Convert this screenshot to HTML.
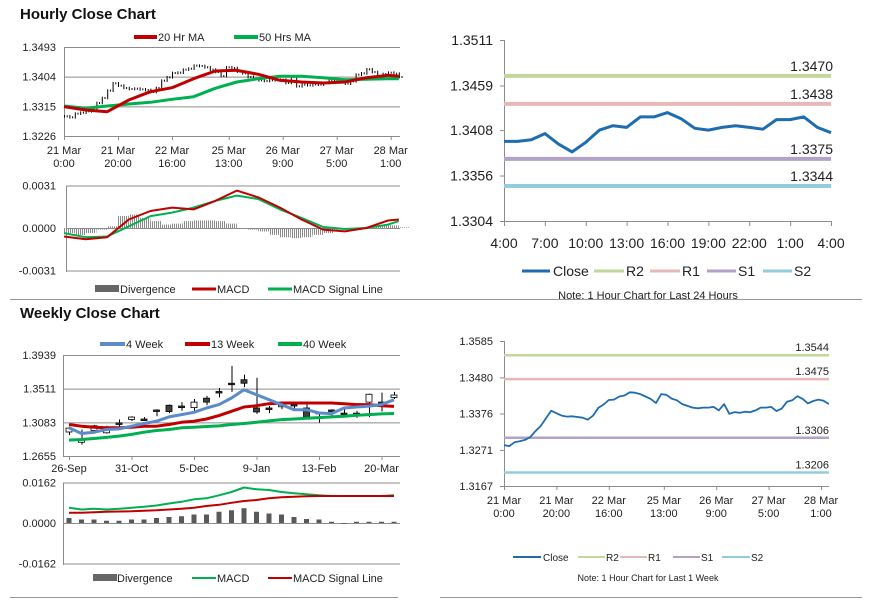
<!DOCTYPE html>
<html><head><meta charset="utf-8"><style>
html,body{margin:0;padding:0;background:#fff;}
svg{display:block;font-family:"Liberation Sans",Arial,sans-serif;}
.t{font-size:11px;fill:#222;}
.n{font-family:"Liberation Sans Narrow","Liberation Sans",sans-serif;font-size:14px;fill:#222;}
.ttl{font-size:15px;font-weight:bold;fill:#111;}
.nt{font-size:9px;fill:#222;}
</style></head><body>
<svg id="c" width="873" height="601" viewBox="0 0 873 601" xmlns="http://www.w3.org/2000/svg">
<defs>
<pattern id="hatch" width="2" height="4" patternUnits="userSpaceOnUse"><rect x="0" y="0" width="1" height="4" fill="#8a8a8a"/></pattern>
</defs>
<text x="20" y="19" class="ttl">Hourly Close Chart</text>
<text x="20" y="318" class="ttl">Weekly Close Chart</text>
<line x1="10" y1="299.5" x2="862" y2="299.5" stroke="#999"/>
<line x1="10" y1="597.5" x2="398" y2="597.5" stroke="#999"/>
<line x1="440" y1="597.5" x2="862" y2="597.5" stroke="#999"/>

<g>
<line x1="134" y1="37" x2="157" y2="37" stroke="#c00000" stroke-width="4"/><text x="158" y="41" class="t">20 Hr MA</text>
<line x1="234" y1="37" x2="258" y2="37" stroke="#00b050" stroke-width="4"/><text x="259" y="41" class="t">50 Hrs MA</text>
</g>
<g>
<rect x="95" y="285" width="24" height="7" fill="#666"/><text x="120" y="293" class="t">Divergence</text>
<line x1="192" y1="289" x2="216" y2="289" stroke="#c00000" stroke-width="3"/><text x="217" y="293" class="t">MACD</text>
<line x1="268" y1="289" x2="292" y2="289" stroke="#00b050" stroke-width="3"/><text x="293" y="293" class="t">MACD Signal Line</text>
</g>
<g>
<line x1="100" y1="344" x2="125" y2="344" stroke="#5b8bc9" stroke-width="4"/><text x="126" y="348" class="t">4 Week</text>
<line x1="185" y1="344" x2="210" y2="344" stroke="#c00000" stroke-width="4"/><text x="211" y="348" class="t">13 Week</text>
<line x1="278" y1="344" x2="302" y2="344" stroke="#00b050" stroke-width="4"/><text x="303" y="348" class="t">40 Week</text>
</g>
<g>
<rect x="93" y="574" width="24" height="7" fill="#666"/><text x="117" y="582" class="t">Divergence</text>
<line x1="192" y1="578" x2="216" y2="578" stroke="#00b050" stroke-width="2"/><text x="217" y="582" class="t">MACD</text>
<line x1="268" y1="578" x2="292" y2="578" stroke="#c00000" stroke-width="2"/><text x="293" y="582" class="t">MACD Signal Line</text>
</g>
<g>
<line x1="522" y1="271" x2="550" y2="271" stroke="#1f6cb0" stroke-width="3"/><text x="553" y="276" class="n">Close</text>
<line x1="594" y1="271" x2="624" y2="271" stroke="#c3d69b" stroke-width="3"/><text x="626" y="276" class="n">R2</text>
<line x1="650" y1="271" x2="680" y2="271" stroke="#e6b9b8" stroke-width="3"/><text x="682" y="276" class="n">R1</text>
<line x1="707" y1="271" x2="736" y2="271" stroke="#b3a2c7" stroke-width="3"/><text x="738" y="276" class="n">S1</text>
<line x1="763" y1="271" x2="792" y2="271" stroke="#93cddd" stroke-width="3"/><text x="794" y="276" class="n">S2</text>
<text x="648" y="299" class="n" style="font-size:11px" text-anchor="middle">Note: 1 Hour Chart for Last 24 Hours</text>
</g>
<g>
<line x1="513" y1="557" x2="541" y2="557" stroke="#1f6cb0" stroke-width="2"/><text x="543" y="561" class="t" style="font-size:10px">Close</text>
<line x1="578" y1="557" x2="605" y2="557" stroke="#c3d69b" stroke-width="2"/><text x="606" y="561" class="t" style="font-size:10px">R2</text>
<line x1="620" y1="557" x2="647" y2="557" stroke="#e6b9b8" stroke-width="2"/><text x="648" y="561" class="t" style="font-size:10px">R1</text>
<line x1="673" y1="557" x2="700" y2="557" stroke="#b3a2c7" stroke-width="2"/><text x="701" y="561" class="t" style="font-size:10px">S1</text>
<line x1="722" y1="557" x2="750" y2="557" stroke="#93cddd" stroke-width="2"/><text x="751" y="561" class="t" style="font-size:10px">S2</text>
<text x="648" y="581" class="nt" text-anchor="middle">Note: 1 Hour Chart for  Last 1 Week</text>
</g>
</svg>
<script>
const hourlyClose = [1.3285,1.3282,1.3293,1.3296,1.3300,1.3308,1.3325,1.3340,1.3362,1.3384,1.3377,1.3370,1.3367,1.3368,1.3366,1.3364,1.3358,1.3370,1.3392,1.3402,1.3415,1.3416,1.3425,1.3428,1.3437,1.3436,1.3432,1.3425,1.3418,1.3406,1.3432,1.3430,1.3419,1.3414,1.3403,1.3398,1.3393,1.3391,1.3393,1.3393,1.3395,1.3385,1.3403,1.3375,1.3380,1.3378,1.3381,1.3380,1.3385,1.3393,1.3393,1.3395,1.3383,1.3390,1.3410,1.3414,1.3426,1.3418,1.3405,1.3412,1.3416,1.3413,1.3403];
const ma20 = [1.3314,1.3304,1.3299,1.3334,1.3359,1.3371,1.3398,1.3421,1.3423,1.3411,1.3393,1.3388,1.3385,1.3388,1.3401,1.3408,1.3405];
const ma50 = [1.3316,1.3309,1.3316,1.3322,1.3327,1.3336,1.3344,1.3369,1.3388,1.3398,1.3405,1.3405,1.3401,1.3395,1.3396,1.3398,1.3398];
const maHours = [0,8,16,24,32,40,48,56,64,72,80,88,96,104,112,120,124];
const hMacd = [-0.00062,-0.00082,-0.00067,0.00062,0.00124,0.00149,0.00136,0.00198,0.00273,0.00223,0.00149,0.00062,-0.00012,-0.00025,0,0.00055,0.00062];
const hSignal = [-0.00037,-0.00067,-0.00062,0.00012,0.00087,0.00112,0.00149,0.00198,0.00236,0.00211,0.00136,0.00074,0.00007,-0.00007,0,0.00025,0.0005];
const hDiv = [-0.00037,-0.0005,-0.00037,-0.00012,0.00012,0.00087,0.00099,0.00074,0.0005,0.00025,0.00032,0.0005,0.00055,0.00055,0.0005,0.00032,0,-0.00012,-0.00025,-0.0005,-0.00067,-0.00074,-0.00067,-0.0005,-0.00037,-0.00012,-0.00002,0,0.00012,0.00017,0.0002,0.00005];
const hTickLabels = [["21 Mar","0:00"],["21 Mar","20:00"],["22 Mar","16:00"],["25 Mar","13:00"],["26 Mar","9:00"],["27 Mar","5:00"],["28 Mar","1:00"]];
const hTickHours = [0,20,40,61,81,101,121];
const hPriceTicks = [1.3493,1.3404,1.3315,1.3226];
const hMacdTicks = [0.0031,0,-0.0031];
const dayClose = [1.3395,1.3395,1.3397,1.3404,1.3392,1.3383,1.3394,1.3408,1.3413,1.3411,1.3423,1.3423,1.3428,1.3421,1.3410,1.3408,1.3411,1.3413,1.3411,1.3409,1.3420,1.3420,1.3423,1.3411,1.3405];
const dayTicks = ["4:00","7:00","10:00","13:00","16:00","19:00","22:00","1:00","4:00"];
const dayPriceTicks = [1.3511,1.3459,1.3408,1.3356,1.3304];
const dayLevels = [1.3470,1.3438,1.3375,1.3344];
const weekLevels = [1.3544,1.3475,1.3306,1.3206];
const levelNames = ["R2","R1","S1","S2"];
const weekPriceTicksR = [1.3585,1.3480,1.3376,1.3271,1.3167];
const wOpen  = [1.2960,1.2830,1.2980,1.2950,1.3075,1.3120,1.3125,1.3240,1.3300,1.3290,1.3270,1.3390,1.3475,1.3580,1.3625,1.3265,1.3265,1.3300,1.3310,1.3265,1.3210,1.3240,1.3200,1.3200,1.3340,1.3340,1.3400];
const wClose = [1.3010,1.2870,1.3040,1.2990,1.3060,1.3150,1.3115,1.3230,1.3220,1.3270,1.3340,1.3340,1.3470,1.3570,1.3580,1.3215,1.3255,1.3300,1.3300,1.3150,1.3200,1.3230,1.3190,1.3195,1.3440,1.3300,1.3430];
const wHigh  = [1.3030,1.2990,1.3050,1.3040,1.3120,1.3160,1.3150,1.3250,1.3310,1.3340,1.3380,1.3420,1.3520,1.3800,1.3690,1.3650,1.3290,1.3330,1.3330,1.3320,1.3210,1.3250,1.3280,1.3230,1.3450,1.3460,1.3470];
const wLow   = [1.2920,1.2800,1.2940,1.2940,1.3030,1.3100,1.3100,1.3160,1.3200,1.3230,1.3220,1.3300,1.3400,1.3470,1.3530,1.3190,1.3200,1.3250,1.3230,1.3140,1.3080,1.3160,1.3160,1.3140,1.3150,1.3220,1.3380];
const ma4w  = [1.3013,1.2941,1.2958,1.2992,1.3000,1.3034,1.3068,1.3097,1.3152,1.3181,1.3211,1.3265,1.3308,1.3392,1.3497,1.3434,1.3371,1.3308,1.3244,1.3244,1.3202,1.3194,1.3265,1.3278,1.3290,1.3308,1.3371];
const ma13w = [1.3055,1.3034,1.3021,1.3013,1.3013,1.3021,1.3034,1.3034,1.3055,1.3084,1.3097,1.3126,1.3169,1.3223,1.3278,1.3295,1.3320,1.3329,1.3329,1.3329,1.3329,1.3329,1.3320,1.3308,1.3308,1.3295,1.3286];
const ma40w = [1.2857,1.2865,1.2878,1.2891,1.2908,1.2929,1.2958,1.2979,1.2992,1.3013,1.3021,1.3030,1.3038,1.3055,1.3068,1.3084,1.3101,1.3118,1.3126,1.3135,1.3143,1.3152,1.3160,1.3173,1.3181,1.3190,1.3195];
const wMacd   = [0.0061,0.0054,0.0057,0.0054,0.0057,0.0061,0.0065,0.0070,0.0078,0.0085,0.0095,0.0099,0.0111,0.0124,0.0142,0.0135,0.0132,0.0124,0.0119,0.0115,0.0111,0.0108,0.0108,0.0108,0.0108,0.0108,0.0111];
const wSignal = [0.0041,0.0041,0.0043,0.0045,0.0046,0.0047,0.0049,0.0051,0.0054,0.0057,0.0061,0.0068,0.0073,0.0081,0.0088,0.0092,0.0099,0.0103,0.0105,0.0107,0.0108,0.0108,0.0108,0.0108,0.0108,0.0108,0.0108];
const wDiv    = [0.0020,0.0014,0.0014,0.0009,0.0009,0.0014,0.0014,0.0020,0.0024,0.0027,0.0034,0.0034,0.0045,0.0051,0.0059,0.0045,0.0038,0.0034,0.0024,0.0016,0.0014,0.0005,-0.0003,0.0005,0.0005,0.0005,0.0005];
const wTickLabels = ["26-Sep","31-Oct","5-Dec","9-Jan","13-Feb","20-Mar"];
const wTickIdx = [0,5,10,15,20,25];
const wPriceTicks = [1.3939,1.3511,1.3083,1.2655];
const wMacdTicks = [0.0162,0,-0.0162];

const svg = document.getElementById('c');
const NS = 'http://www.w3.org/2000/svg';
function mk(tag, attrs){ const e=document.createElementNS(NS,tag); for(const k in attrs) e.setAttribute(k,attrs[k]); svg.appendChild(e); return e; }
function poly(xs, ys, color, w, name){
  const pts = xs.map((x,i)=>x.toFixed(1)+','+ys[i].toFixed(1)).join(' ');
  const e = mk('polyline',{points:pts,fill:'none',stroke:color,'stroke-width':w,'stroke-linejoin':'round'});
  
  
  return e;
}
function txt(x,y,s,anchor,name,cls){
  const e = mk('text',{x:x,y:y,'text-anchor':anchor,class:cls||'t'}); e.textContent=s;
  
  
  return e;
}
function hline(x1,x2,y,color,w,name){
  const e = mk('line',{x1:x1,x2:x2,y1:y,y2:y,stroke:color,'stroke-width':w});
  
  
  return e;
}
function vline(x,y1,y2,color,w,name){
  const e = mk('line',{x1:x,x2:x,y1:y1,y2:y2,stroke:color,'stroke-width':w});
  
  
  return e;
}
const GRID='#8c8c8c';

const xH = h => 64 + h*2.7;
const yH = p => 47 + (1.3493-p)/0.0267*89;
hPriceTicks.forEach(p=>{ hline(64,400,yH(p)+0.5,GRID,1,'hourly-gridline'); txt(56,yH(p)+4,p.toFixed(4),'end','hourly-y-tick'); });
vline(64.5,47,137,GRID,1,'hourly-y-axis');
hTickHours.forEach((h,i)=>{ vline(xH(h)+0.5,136,140,GRID,1,'hourly-x-tickmark'); txt(xH(h),154,hTickLabels[i][0],'middle','hourly-x-tick'); txt(xH(h),167,hTickLabels[i][1],'middle','hourly-x-tick'); });
hourlyClose.forEach((c,k)=>{
  const prev = k>0 ? hourlyClose[k-1] : c;
  const hi = Math.max(prev,c)+0.0004, lo = Math.min(prev,c)-0.0004;
  vline(xH(2*k)+0.5,yH(hi),yH(lo),'#000',1,'hourly-price-bar');
  vline(xH(2*k+1)+0.5,yH(c+0.0003),yH(c-0.0003),'#000',1,'hourly-price-bar');
});
poly(maHours.map(xH), ma50.map(yH), '#00b050', 3, 'ma50-line');
poly(maHours.map(xH), ma20.map(yH), '#c00000', 3, 'ma20-line');

const yHM = v => 228 - v/0.0031*42.5;
hMacdTicks.forEach(v=>{ hline(66,400,yHM(v)+0.5,GRID,1,'hourly-macd-gridline'); txt(56,yHM(v)+4,v.toFixed(4),'end','hourly-macd-y-tick'); });
vline(66.5,186,272,GRID,1,'hourly-macd-y-axis');
hDiv.forEach((v,i)=>{
  const y0=yHM(0), y1=yHM(v);
  const r = mk('rect',{x:xH(4*i),y:Math.min(y0,y1),width:10.8,height:Math.max(0.5,Math.abs(y1-y0)),fill:'url(#hatch)'});
  
  
});
poly(maHours.map(xH), hSignal.map(yHM), '#00b050', 2, 'hourly-macd-signal-line');
poly(maHours.map(xH), hMacd.map(yHM), '#c00000', 2, 'hourly-macd-line');

const xD = h => 504 + h*(327/24);
const yD = p => 40 + (1.3511-p)/0.0207*181;
dayPriceTicks.forEach(p=>{ txt(493,yD(p)+5,p.toFixed(4),'end','daily-y-tick','n'); hline(500,504,yD(p)+0.5,GRID,1,'daily-y-tickmark'); });
vline(504.5,40,221,GRID,1,'daily-y-axis');
hline(504,831,221.5,GRID,1,'daily-x-axis');
dayTicks.forEach((s,i)=>{ vline(xD(3*i)+0.5,221,226,GRID,1,'daily-x-tickmark'); txt(xD(3*i),248,s,'middle','daily-x-tick','n'); });
const lvlColors=['#c3d69b','#e6b9b8','#b3a2c7','#93cddd'];
dayLevels.forEach((p,i)=>{ hline(504,831,yD(p),lvlColors[i],4,'daily-'+levelNames[i].toLowerCase()+'-line'); txt(833,yD(p)-5,p.toFixed(4),'end','daily-'+levelNames[i].toLowerCase()+'-label','n'); });
poly(dayClose.map((c,i)=>xD(i)), dayClose.map(yD), '#1f6cb0', 3, 'daily-close-line');

const xW = i => 69 + 12.5*i;
const yW = p => 355 + (1.3939-p)/0.1284*101;
wPriceTicks.forEach(p=>{ hline(63,400,yW(p)+0.5,GRID,1,'weekly-gridline'); txt(56,yW(p)+4,p.toFixed(4),'end','weekly-y-tick'); });
vline(63.5,355,457,GRID,1,'weekly-y-axis');
wTickIdx.forEach((ix,i)=>{ vline(xW(ix)+0.5,456,460,GRID,1,'weekly-x-tickmark'); txt(xW(ix),472,wTickLabels[i],'middle','weekly-x-tick'); });
wOpen.forEach((o,i)=>{
  const c=wClose[i];
  vline(xW(i)+0.5,yW(wHigh[i]),yW(wLow[i]),'#000',1,'weekly-candle-wick');
  const top=yW(Math.max(o,c)), bot=yW(Math.min(o,c));
  const r = mk('rect',{x:xW(i)-3,y:top,width:6,height:Math.max(1.5,bot-top),fill:c>=o?'#fff':'#404040',stroke:'#000','stroke-width':0.8});
  
  
});
const wx = wOpen.map((o,i)=>xW(i));
poly(wx, ma40w.map(yW), '#00b050', 3, 'ma40w-line');
poly(wx, ma13w.map(yW), '#c00000', 3, 'ma13w-line');
poly(wx, ma4w.map(yW), '#5b8bc9', 3, 'ma4w-line');

const yWM = v => 523 - v/0.0162*40.5;
wMacdTicks.forEach(v=>{ hline(63,400,yWM(v)+0.5,GRID,1,'weekly-macd-gridline'); txt(56,yWM(v)+4,v.toFixed(4),'end','weekly-macd-y-tick'); });
vline(63.5,483,565,GRID,1,'weekly-macd-y-axis');
wDiv.forEach((v,i)=>{
  const y0=yWM(0), y1=yWM(v);
  const r = mk('rect',{x:xW(i)-2.5,y:Math.min(y0,y1),width:5,height:Math.max(0.5,Math.abs(y1-y0)),fill:'#595959'});
  
  
});
poly(wx, wMacd.map(yWM), '#00b050', 2, 'weekly-macd-line');
poly(wx, wSignal.map(yWM), '#c00000', 2, 'weekly-macd-signal-line');

const xR = h => 504 + h*2.62;
const yR = p => 341 + (1.3585-p)/0.0418*145;
weekPriceTicksR.forEach(p=>{ txt(493,yR(p)+4,p.toFixed(4),'end','levels-y-tick'); hline(500,504,yR(p)+0.5,GRID,1,'levels-y-tickmark'); });
vline(504.5,341,486,GRID,1,'levels-y-axis');
hline(504,829,486.5,GRID,1,'levels-x-axis');
hTickHours.forEach((h,i)=>{ vline(xR(h)+0.5,486,490,GRID,1,'levels-x-tickmark'); txt(xR(h),504,hTickLabels[i][0],'middle','levels-x-tick'); txt(xR(h),517,hTickLabels[i][1],'middle','levels-x-tick'); });
weekLevels.forEach((p,i)=>{ hline(504,829,yR(p),lvlColors[i],2.5,'levels-'+levelNames[i].toLowerCase()+'-line'); txt(829,yR(p)-4,p.toFixed(4),'end','levels-'+levelNames[i].toLowerCase()+'-label'); });
poly(hourlyClose.map((c,k)=>xR(2*k)), hourlyClose.map(yR), '#1f6cb0', 1.8, 'levels-close-line');
</script>
</body></html>
